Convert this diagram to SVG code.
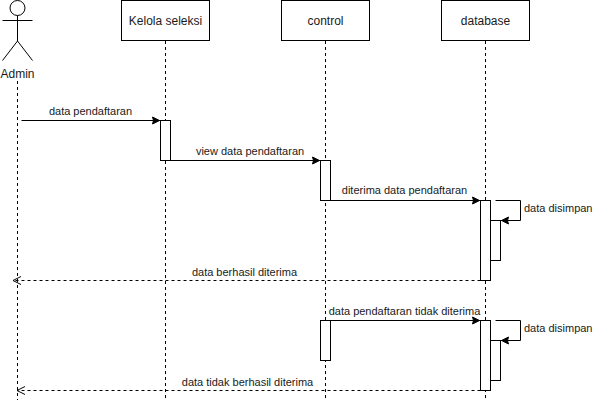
<svg xmlns="http://www.w3.org/2000/svg" width="593" height="403" viewBox="0 0 593 403">
<defs>
<marker id="solid" markerUnits="userSpaceOnUse" markerWidth="10" markerHeight="10" refX="8" refY="4" orient="auto" overflow="visible"><path d="M0.500,0.500 L7.500,4 L0.500,7.500 L1.500,4 Z" fill="#000" stroke="#000"/></marker>
<marker id="open" markerUnits="userSpaceOnUse" markerWidth="10" markerHeight="10" refX="8" refY="4" orient="auto" overflow="visible"><path d="M0,0 L8,4 L0,8" fill="none" stroke="#000"/></marker>
</defs>
<style>
text{font-family:"Liberation Sans",Arial,sans-serif;fill:#1a1a1a;font-size:11px}
.t{font-size:12px;text-anchor:middle}
.m{text-anchor:middle}
.box{fill:#fff;stroke:#000;stroke-width:1}
.life{fill:none;stroke:#000;stroke-width:1;stroke-dasharray:3 3}
.msg{fill:none;stroke:#000;stroke-width:1}
.ret{fill:none;stroke:#000;stroke-width:1;stroke-dasharray:3 3}
</style>
<rect width="593" height="403" fill="#fff"/>
<g id="lifelines">
<path class="life" d="M17.500,81V400"/>
<path class="life" d="M165.500,41V400"/>
<path class="life" d="M325.500,41V400"/>
<path class="life" d="M485.500,41V400"/>
</g>
<g id="admin">
<circle cx="17.500" cy="8" r="7.500" fill="#fff" stroke="#000"/>
<path d="M17.500,15.500V41M2.500,20.500H32.500M17.500,41L2.500,60.500M17.500,41L32.500,60.500" fill="none" stroke="#000"/>
<text class="t" x="17.500" y="78">Admin</text>
</g>
<g id="kelola"><rect class="box" x="121.500" y="0.500" width="88" height="40"/><text class="t" x="165.500" y="24.500">Kelola seleksi</text></g>
<g id="control"><rect class="box" x="281.500" y="0.500" width="88" height="40"/><text class="t" x="325.500" y="24.500">control</text></g>
<g id="database"><rect class="box" x="441.500" y="0.500" width="88" height="40"/><text class="t" x="485.500" y="24.500">database</text></g>
<g id="activations">
<rect class="box" x="160.500" y="120.500" width="10" height="40"/>
<rect class="box" x="320.500" y="160.500" width="10" height="40"/>
<rect class="box" x="480.500" y="200.500" width="10" height="80"/>
<rect class="box" x="490.500" y="220.500" width="10" height="40"/>
<rect class="box" x="320.500" y="320.500" width="10" height="40"/>
<rect class="box" x="480.500" y="320.500" width="10" height="70"/>
<rect class="box" x="490.500" y="340.500" width="10" height="40"/>
</g>
<g id="connectors">
<path class="msg" d="M21.500,120.500H160" marker-end="url(#solid)"/>
<path class="msg" d="M170.500,160.500H320" marker-end="url(#solid)"/>
<path class="msg" d="M330.500,200.500H480" marker-end="url(#solid)"/>
<path class="msg" d="M495.500,200.500H520.500V220.500H501" marker-end="url(#solid)"/>
<path class="ret" d="M480.500,280.500H13" marker-end="url(#open)"/>
<path class="msg" d="M330.500,320.500H480" marker-end="url(#solid)"/>
<path class="msg" d="M495.500,320.500H520.500V340.500H501" marker-end="url(#solid)"/>
<path class="ret" d="M480.500,390.500H17" marker-end="url(#open)"/>
</g>
<g id="labels">
<text class="m" x="90.500" y="115">data pendaftaran</text>
<text class="m" x="250" y="155">view data pendaftaran</text>
<text class="m" x="404.500" y="194">diterima data pendaftaran</text>
<text x="524" y="212">data disimpan</text>
<text class="m" x="244.500" y="276">data berhasil diterima</text>
<text class="m" x="404.500" y="315">data pendaftaran tidak diterima</text>
<text x="524" y="332">data disimpan</text>
<text class="m" x="247.500" y="386">data tidak berhasil diterima</text>
</g>
</svg>
